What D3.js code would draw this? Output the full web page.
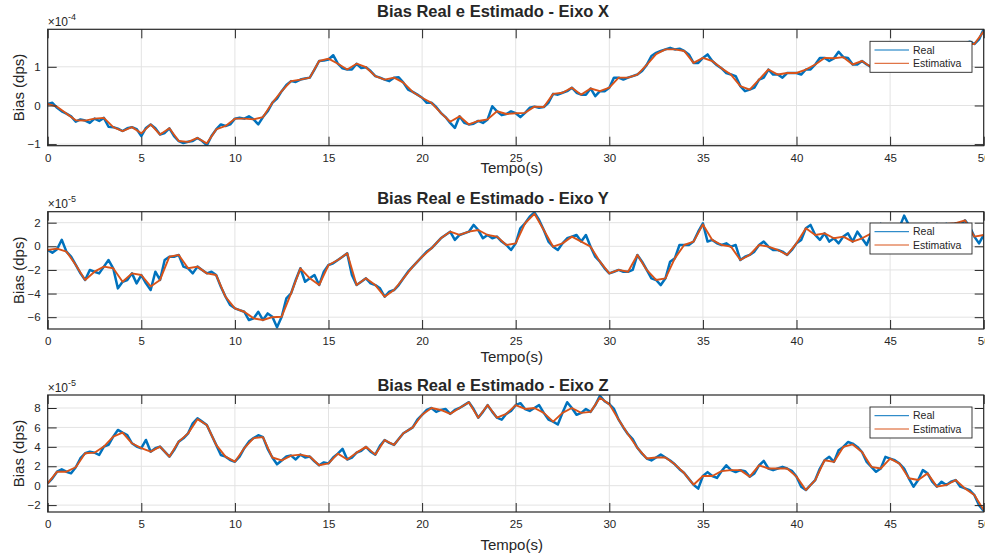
<!DOCTYPE html>
<html><head><meta charset="utf-8">
<script src="https://cdn.jsdelivr.net/npm/d3@7"></script>
<style>
body{margin:0;background:#fff}
svg{display:block}
text{font-family:"Liberation Sans",Arial,Helvetica,sans-serif;fill:#262626}
</style>
</head><body>
<svg id="chart" width="985" height="554"></svg>
<script>
// ---------------- data ----------------
const tMax = 50;
const xTicks = [0, 5, 10, 15, 20, 25, 30, 35, 40, 45, 50];
const seriesNames = ["Real", "Estimativa"];
const titles = ["Bias Real e Estimado - Eixo X", "Bias Real e Estimado - Eixo Y", "Bias Real e Estimado - Eixo Z"];
const xLabel = "Tempo(s)";
const yLabel = "Bias (dps)";

// values are in units of 10^exp (exp shown above each axis)
const expX = -4, expY = -5, expZ = -5;
const yTicksX = [-1, 0, 1];
const yTicksY = [-6, -4, -2, 0, 2];
const yTicksZ = [-2, 0, 2, 4, 6, 8];
const yLimX = [-1.04, 1.97];
const yLimY = [-7.0, 2.93];
const yLimZ = [-2.71, 9.34];

// Real: samples every 0.25 s (0..50)
const realX = [
 0.04, 0.07, -0.06, -0.15, -0.21, -0.28, -0.42, -0.36, -0.39, -0.45,
 -0.34, -0.40, -0.32, -0.55, -0.56, -0.60, -0.66, -0.59, -0.56, -0.61,
 -0.79, -0.58, -0.49, -0.59, -0.75, -0.71, -0.59, -0.79, -0.92, -0.97,
 -0.94, -0.92, -0.84, -0.92, -1.03, -0.79, -0.62, -0.49, -0.53, -0.49,
 -0.34, -0.32, -0.34, -0.28, -0.36, -0.49, -0.30, -0.15, 0.07, 0.18,
 0.37, 0.53, 0.63, 0.61, 0.67, 0.70, 0.72, 0.93, 1.15, 1.16,
 1.19, 1.30, 1.08, 0.96, 0.93, 0.93, 1.08, 0.97, 0.99, 0.89,
 0.76, 0.72, 0.67, 0.63, 0.72, 0.73, 0.59, 0.41, 0.35, 0.28,
 0.20, 0.07, 0.07, -0.04, -0.19, -0.30, -0.45, -0.58, -0.28, -0.45,
 -0.49, -0.47, -0.40, -0.45, -0.36, -0.02, -0.15, -0.25, -0.22, -0.15,
 -0.20, -0.30, -0.19, -0.06, -0.03, -0.06, -0.04, 0.07, 0.30, 0.28,
 0.33, 0.37, 0.46, 0.33, 0.28, 0.28, 0.44, 0.24, 0.37, 0.37,
 0.46, 0.72, 0.72, 0.67, 0.72, 0.76, 0.80, 0.89, 1.05, 1.28,
 1.36, 1.41, 1.45, 1.49, 1.45, 1.47, 1.41, 1.32, 1.10, 1.10,
 1.23, 1.32, 1.15, 1.04, 0.96, 0.84, 0.80, 0.76, 0.50, 0.37,
 0.41, 0.46, 0.67, 0.72, 0.93, 0.80, 0.80, 0.72, 0.84, 0.84,
 0.84, 0.80, 0.93, 0.93, 1.06, 1.23, 1.23, 1.15, 1.22, 1.39,
 1.25, 1.23, 1.06, 1.06, 1.15, 1.06, 0.99, 1.02, 1.05, 1.10,
 1.15, 1.20, 1.18, 1.25, 1.30, 1.28, 1.35, 1.40, 1.38, 1.45,
 1.50, 1.48, 1.55, 1.52, 1.58, 1.56, 1.60, 1.65, 1.59, 1.71,
 1.97
];
const realY = [
 -0.31, -0.54, -0.25, 0.55, -0.45, -0.88, -1.58, -2.29, -2.85, -2.00,
 -2.15, -2.29, -1.72, -1.16, -1.86, -3.56, -3.00, -2.85, -2.29, -3.14,
 -2.43, -3.14, -3.70, -2.15, -2.85, -1.16, -0.88, -0.88, -0.73, -1.72,
 -1.86, -2.29, -1.72, -2.00, -2.29, -2.15, -2.43, -3.42, -4.27, -4.97,
 -5.25, -5.40, -5.54, -6.24, -6.10, -5.54, -6.24, -5.68, -5.96, -6.85,
 -5.96, -4.41, -3.98, -2.85, -1.86, -3.00, -2.71, -2.43, -3.28, -2.15,
 -1.58, -1.44, -1.16, -0.88, -0.59, -2.43, -3.28, -3.00, -2.71, -3.14,
 -3.28, -3.56, -4.27, -3.84, -3.70, -3.28, -2.71, -2.15, -1.72, -1.30,
 -0.88, -0.45, -0.17, 0.25, 0.68, 0.96, 1.24, 0.54, 0.96, 1.10,
 1.24, 1.81, 1.38, 0.68, 0.96, 0.68, 0.82, 0.40, 0.11, -0.31,
 0.25, 1.53, 1.95, 2.51, 2.88, 2.23, 1.38, 0.40, -0.03, -0.31,
 0.25, 0.68, 0.82, 0.96, 0.40, 0.96, -0.03, -0.88, -1.30, -1.86,
 -2.29, -2.15, -2.00, -2.15, -2.15, -2.00, -0.73, -1.30, -2.00, -2.71,
 -2.85, -3.28, -2.71, -1.30, -1.02, 0.11, 0.11, 0.11, 0.40, 1.24,
 1.95, 0.40, 0.54, 0.25, 0.11, 0.25, -0.03, 0.11, -1.16, -0.88,
 -0.73, -0.45, 0.11, 0.40, -0.03, -0.31, -0.31, -0.45, -0.73, -0.31,
 0.25, 0.54, 1.53, 1.81, 0.96, 0.54, 1.10, 0.40, 0.68, 0.25,
 0.82, 1.10, 0.40, 1.24, 0.68, 0.11, 1.10, 0.90, 1.90, 1.50,
 1.20, 1.00, 1.60, 2.60, 1.80, 1.20, 0.90, 1.10, 1.40, 1.30,
 1.90, 1.70, 1.90, 1.60, 1.95, 1.80, 2.20, 1.67, 0.82, 0.25,
 0.96
];
const realZ = [
 0.24, 0.75, 1.44, 1.68, 1.44, 1.27, 1.90, 2.83, 3.34, 3.50,
 3.40, 3.16, 4.03, 4.20, 5.05, 5.74, 5.47, 5.22, 4.37, 4.03,
 3.86, 4.71, 3.50, 3.86, 4.03, 3.50, 2.99, 3.67, 4.54, 4.88,
 5.39, 6.42, 6.94, 6.60, 6.25, 5.22, 4.20, 3.16, 2.99, 2.64,
 2.47, 2.99, 3.86, 4.54, 4.90, 5.20, 5.00, 3.80, 2.90, 2.20,
 2.60, 3.00, 3.10, 2.70, 3.20, 2.90, 3.00, 2.50, 2.10, 2.40,
 2.30, 2.90, 3.30, 3.80, 2.70, 2.90, 3.40, 3.60, 4.00, 3.50,
 3.20, 4.10, 4.70, 4.40, 4.20, 4.80, 5.40, 5.70, 6.00, 6.80,
 7.30, 7.80, 8.00, 7.60, 7.80, 7.90, 7.40, 7.80, 8.00, 8.30,
 8.60, 7.90, 7.00, 7.60, 8.30, 7.60, 7.00, 6.80, 7.40, 7.70,
 8.30, 8.50, 7.90, 7.70, 8.00, 8.30, 7.50, 6.80, 6.60, 6.30,
 7.50, 8.60, 8.00, 7.30, 7.50, 7.90, 7.60, 8.30, 9.25, 8.70,
 8.40, 7.90, 6.80, 6.00, 5.30, 4.80, 3.90, 3.30, 2.80, 2.60,
 2.90, 3.20, 2.90, 2.60, 2.20, 1.70, 1.30, 0.70, 0.10, -0.30,
 1.00, 1.40, 1.00, 0.80, 1.50, 2.10, 1.60, 1.40, 1.60, 1.50,
 0.93, 1.27, 2.10, 2.55, 1.77, 1.60, 1.77, 1.94, 1.77, 1.53,
 0.93, -0.10, -0.45, 0.07, 0.58, 1.77, 2.62, 2.97, 2.45, 3.65,
 3.99, 4.50, 4.33, 3.99, 3.47, 2.45, 1.94, 1.43, 1.77, 2.97,
 2.79, 2.62, 2.28, 1.77, 0.76, -0.10, 0.58, 1.60, 1.27, 0.41,
 -0.10, 0.41, 0.07, 0.41, 0.58, -0.10, -0.28, -0.45, -0.96, -2.00,
 -2.60
];

// Estimativa: samples every 0.5 s (0..50)
const estX = [
 0.04, -0.03, -0.21, -0.38, -0.39, -0.34, -0.32, -0.56, -0.66, -0.56,
 -0.72, -0.49, -0.75, -0.59, -0.92, -0.94, -0.84, -0.98, -0.62, -0.53,
 -0.34, -0.34, -0.36, -0.30, 0.07, 0.37, 0.63, 0.67, 0.72, 1.15,
 1.21, 1.08, 0.93, 1.08, 0.99, 0.76, 0.67, 0.72, 0.59, 0.35,
 0.20, 0.07, -0.19, -0.42, -0.28, -0.49, -0.40, -0.36, -0.15, -0.22,
 -0.20, -0.19, -0.03, -0.04, 0.30, 0.33, 0.46, 0.28, 0.44, 0.37,
 0.46, 0.72, 0.72, 0.80, 1.05, 1.33, 1.45, 1.45, 1.41, 1.10,
 1.23, 1.15, 0.96, 0.80, 0.50, 0.41, 0.67, 0.93, 0.80, 0.84,
 0.84, 0.93, 1.06, 1.23, 1.22, 1.25, 1.06, 1.15, 0.99, 1.05,
 1.15, 1.18, 1.30, 1.35, 1.38, 1.50, 1.55, 1.58, 1.60, 1.59,
 1.92
];
const estY = [
 -0.31, -0.20, -0.45, -1.58, -2.85, -2.15, -1.72, -1.86, -3.00, -2.29,
 -2.43, -3.40, -2.85, -0.88, -0.73, -1.86, -1.72, -2.29, -2.43, -4.27,
 -5.25, -5.54, -6.10, -6.24, -6.00, -5.96, -3.98, -1.86, -2.71, -3.28,
 -1.58, -1.16, -0.59, -3.28, -2.71, -3.28, -4.27, -3.70, -2.71, -1.72,
 -0.88, -0.17, 0.68, 1.24, 0.96, 1.24, 1.38, 0.96, 0.82, 0.11,
 0.25, 1.95, 2.75, 1.38, -0.03, 0.25, 0.82, 0.40, -0.03, -1.30,
 -2.29, -2.00, -2.15, -0.73, -2.00, -2.85, -2.71, -1.02, 0.11, 0.40,
 1.85, 0.54, 0.11, -0.03, -1.16, -0.73, 0.11, -0.03, -0.31, -0.73,
 0.25, 1.53, 0.96, 1.10, 0.68, 0.82, 0.40, 0.68, 1.10, 1.90,
 1.20, 1.60, 1.80, 0.90, 1.40, 1.90, 1.90, 1.95, 2.20, 0.82,
 0.96
];
const estZ = [
 0.24, 1.44, 1.44, 1.90, 3.34, 3.40, 4.03, 5.05, 5.47, 4.37,
 3.86, 3.50, 4.03, 2.99, 4.54, 5.39, 6.85, 6.25, 4.20, 2.99,
 2.47, 3.86, 4.90, 5.00, 2.90, 2.60, 3.10, 3.20, 3.00, 2.10,
 2.30, 3.30, 2.70, 3.40, 4.00, 3.20, 4.70, 4.20, 5.40, 6.00,
 7.30, 8.00, 7.80, 7.40, 8.00, 8.60, 7.00, 8.30, 7.00, 7.40,
 8.30, 7.90, 8.00, 7.50, 6.60, 7.50, 8.00, 7.50, 7.60, 9.05,
 8.40, 6.80, 5.30, 3.90, 2.80, 2.90, 2.90, 2.20, 1.30, 0.10,
 1.00, 1.00, 1.50, 1.60, 1.60, 0.93, 2.10, 1.77, 1.77, 1.77,
 0.93, -0.45, 0.58, 2.62, 2.45, 3.99, 4.25, 3.47, 1.94, 1.77,
 2.79, 2.28, 0.76, 0.58, 1.27, -0.10, 0.07, 0.58, -0.28, -0.96,
 -2.50
];

// ---------------- drawing ----------------
const colors = ["#0072BD", "#D95319"];
const svg = d3.select("#chart");
const L = 47.7, R = 983.7;
const panels = [
  {title: titles[0], real: realX, est: estX, exp: expX, yTicks: yTicksX, yLim: yLimX, top: 29.3, bottom: 145.7, titleY: 17, xlabY: 173, legTop: 41.3},
  {title: titles[1], real: realY, est: estY, exp: expY, yTicks: yTicksY, yLim: yLimY, top: 211.7, bottom: 329, titleY: 204, xlabY: 362, legTop: 223},
  {title: titles[2], real: realZ, est: estZ, exp: expZ, yTicks: yTicksZ, yLim: yLimZ, top: 395, bottom: 512, titleY: 391, xlabY: 550, legTop: 407}
];

const x = d3.scaleLinear().domain([0, tMax]).range([L, R]);
const toPts = arr => arr.map((v, i) => [i * tMax / (arr.length - 1), v]);

panels.forEach((p, k) => {
  const y = d3.scaleLinear().domain(p.yLim).range([p.bottom, p.top]);
  const g = svg.append("g");

  // grid
  g.append("g").selectAll("line").data(xTicks.filter(t => t > 0 && t < tMax)).join("line")
    .attr("x1", d => x(d)).attr("x2", d => x(d)).attr("y1", p.top).attr("y2", p.bottom)
    .attr("stroke", "#e3e3e3").attr("stroke-width", 1);
  g.append("g").selectAll("line").data(p.yTicks).join("line")
    .attr("x1", L).attr("x2", R).attr("y1", d => y(d)).attr("y2", d => y(d))
    .attr("stroke", "#e3e3e3").attr("stroke-width", 1);

  // clip
  const cid = "clip" + k;
  svg.append("clipPath").attr("id", cid).append("rect")
    .attr("x", L).attr("y", p.top).attr("width", R - L).attr("height", p.bottom - p.top);

  const line = d3.line().x(d => x(d[0])).y(d => y(d[1]));
  const lg = g.append("g").attr("clip-path", `url(#${cid})`);
  lg.append("path").datum(toPts(p.real)).attr("d", line)
    .attr("fill", "none").attr("stroke", colors[0]).attr("stroke-width", 2.5).attr("stroke-linejoin", "round");
  lg.append("path").datum(toPts(p.est)).attr("d", line)
    .attr("fill", "none").attr("stroke", colors[1]).attr("stroke-width", 1.9).attr("stroke-linejoin", "round");

  // axes (ticks inward, on all four sides)
  const tl = 9;
  const axB = d3.axisBottom(x).tickValues(xTicks).tickSize(-tl).tickPadding(8).tickFormat(d3.format("d"));
  const axT = d3.axisTop(x).tickValues(xTicks).tickSize(-tl).tickFormat("");
  const axLf = d3.axisLeft(y).tickValues(p.yTicks).tickSize(-tl).tickPadding(7).tickFormat(d3.format("d"));
  const axRt = d3.axisRight(y).tickValues(p.yTicks).tickSize(-tl).tickFormat("");
  const styleAx = sel => {
    sel.select(".domain").remove();
    sel.selectAll(".tick line").attr("stroke", "#262626").attr("stroke-width", 1);
    sel.selectAll(".tick text").attr("fill", "#262626").style("font-size", "11.5px")
      .style("font-family", '"Liberation Sans",Arial,Helvetica,sans-serif');
  };
  g.append("g").attr("transform", `translate(0,${p.bottom})`).call(axB).call(styleAx);
  g.append("g").attr("transform", `translate(0,${p.top})`).call(axT).call(styleAx);
  g.append("g").attr("transform", `translate(${L},0)`).call(axLf).call(styleAx);
  g.append("g").attr("transform", `translate(${R},0)`).call(axRt).call(styleAx);

  g.append("rect").attr("x", L).attr("y", p.top).attr("width", R - L).attr("height", p.bottom - p.top)
    .attr("fill", "none").attr("stroke", "#262626").attr("stroke-width", 1.2);

  // exponent label
  const ex = g.append("text").attr("x", L).attr("y", p.top - 3.5).style("font-size", "12px");
  ex.append("tspan").text("\u00d710");
  ex.append("tspan").attr("dy", -6).style("font-size", "9px").text(String(p.exp));

  // title
  g.append("text").attr("x", 493).attr("y", p.titleY).attr("text-anchor", "middle")
    .style("font-size", "16.5px").style("font-weight", "bold").attr("fill", "#000").text(p.title);

  // axis labels
  g.append("text").attr("x", (L + R) / 2 - 4).attr("y", p.xlabY).attr("text-anchor", "middle")
    .style("font-size", "15px").text(xLabel);
  g.append("text").attr("transform", `translate(${24},${(p.top + p.bottom) / 2}) rotate(-90)`)
    .attr("text-anchor", "middle").style("font-size", "15px").text(yLabel);

  // legend
  const lx = 870, lw = 102, lh = 31;
  const leg = g.append("g");
  leg.append("rect").attr("x", lx).attr("y", p.legTop).attr("width", lw).attr("height", lh)
    .attr("fill", "#fff").attr("stroke", "#262626").attr("stroke-width", 0.9);
  seriesNames.forEach((n, i) => {
    const yy = p.legTop + 8.7 + i * 13.3;
    leg.append("line").attr("x1", lx + 4.5).attr("x2", lx + 39).attr("y1", yy).attr("y2", yy)
      .attr("stroke", colors[i]).attr("stroke-width", 1);
    leg.append("text").attr("x", lx + 43).attr("y", yy + 3.7).style("font-size", "10.5px").text(n);
  });
});
</script>
</body></html>
